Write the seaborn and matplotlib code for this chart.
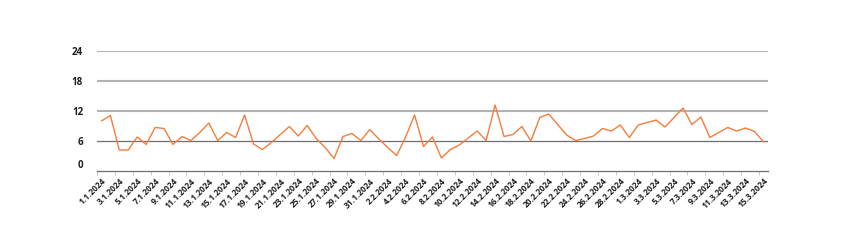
import matplotlib
matplotlib.use("Agg")
import matplotlib.pyplot as plt
import matplotlib.transforms as mtransforms
import seaborn as sns
import pandas as pd
import numpy as np

# Daily dates 1.1.2024 .. 15.3.2024
dates = pd.date_range("2024-01-01", "2024-03-15", freq="D")
date_labels = [f"{d.day}.{d.month}.{d.year}" for d in dates]

values = [
    10.0, 11.1, 4.2, 4.2, 6.8, 5.3, 8.7, 8.5, 5.3, 6.9,
    6.1, 7.7, 9.6, 6.1, 7.7, 6.7, 11.2, 5.4, 4.3, 5.7,
    7.3, 8.9, 7.0, 9.1, 6.5, 4.7, 2.5, 6.9, 7.5, 6.1,
    8.3, 6.4, 4.7, 3.1, 6.8, 11.2, 4.9, 6.8, 2.6, 4.3,
    5.2, 6.6, 8.0, 6.1, 13.2, 6.9, 7.3, 8.9, 6.0, 10.7,
    11.4, 9.3, 7.2, 6.1, 6.5, 7.0, 8.5, 8.0, 9.2, 6.7,
    9.2, 9.7, 10.2, 8.8, 10.7, 12.6, 9.3, 10.8, 6.7, 7.7,
    8.7, 8.0, 8.6, 7.9, 5.8,
]
y_ticks = [0, 6, 12, 18, 24]

df = pd.DataFrame({"idx": np.arange(len(values)), "value": values})

sns.set_theme(style="white")
plt.rcParams["font.family"] = ["Open Sans", "DejaVu Sans"]

fig = plt.figure(figsize=(8.43, 2.5), dpi=100)
ax = fig.add_axes([0.115, 0.316, 0.796, 0.48])

# gridlines
for t in [12, 18, 24]:
    ax.axhline(t, color="#b1b3b6", lw=1.5, zorder=1)
ax.axhline(6, color="#6d6e71", lw=0.9, zorder=1)

sns.lineplot(data=df, x="idx", y="value", ax=ax, color="#f47d3c", lw=1.0, zorder=3)

ax.set_xlim(-0.5, len(values) - 0.5)
ax.set_ylim(0, 24)
ax.set_yticks(y_ticks)
ax.set_yticklabels([str(t) for t in y_ticks], fontsize=7, fontweight="bold", color="#231f20")
ax.tick_params(axis="y", length=0, pad=10)
# the "0" label sits a little above the baseline in the reference
offset = mtransforms.ScaledTranslation(0, 5 / 72.0, fig.dpi_scale_trans)
for lab in ax.get_yticklabels():
    if lab.get_text() == "0":
        lab.set_transform(lab.get_transform() + offset)

major = np.arange(0, len(values), 2)
ax.set_xticks(major)
ax.set_xticklabels([date_labels[i] for i in major], rotation=45, ha="right", va="top",
                   rotation_mode="anchor", fontsize=6, fontweight="bold", color="#231f20")
ax.tick_params(axis="x", which="major", length=0, pad=4)
ax.set_xticks(np.arange(-0.5, len(values), 2), minor=True)
ax.tick_params(axis="x", which="minor", length=3, width=0.6, color="#bcbec0", bottom=True)

ax.set_xlabel("")
ax.set_ylabel("")
for s in ["top", "right", "left"]:
    ax.spines[s].set_visible(False)
ax.spines["bottom"].set_color("#6d6e71")
ax.spines["bottom"].set_linewidth(0.9)
ax.grid(False)

fig.savefig("out.png", dpi=100, facecolor="white")
